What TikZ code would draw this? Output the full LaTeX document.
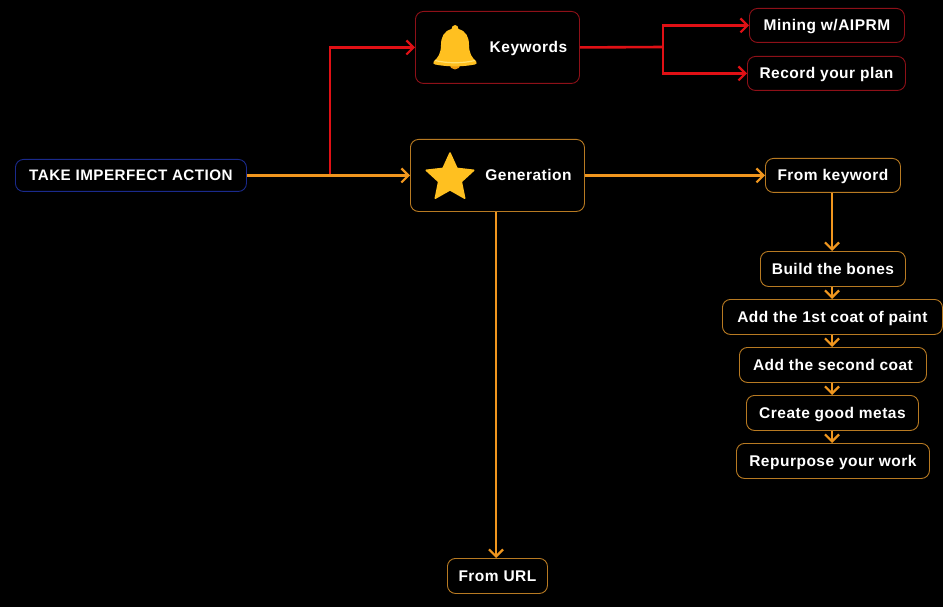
\documentclass[tikz,border=0pt]{standalone}
\usepackage{fontspec}
\setmainfont[LetterSpace=3.2]{Liberation Sans}
\usetikzlibrary{arrows.meta,shapes.geometric}
\definecolor{ored}{HTML}{E01015}
\definecolor{oorange}{HTML}{F0961E}
\definecolor{bred}{HTML}{8E1018}
\definecolor{borange}{HTML}{B87A22}
\definecolor{bblue}{HTML}{1A2A8C}
\definecolor{gold}{HTML}{FFC020}
\definecolor{goldlight}{HTML}{FFE070}
\definecolor{golddark}{HTML}{F09A10}
\tikzset{
  boxn/.style={draw=borange,line width=0.9pt,rounded corners=8pt,inner sep=0pt,text=white,text height=11pt,text depth=0pt,font=\fontsize{15.5}{18}\selectfont\bfseries},
  redn/.style={boxn,draw=bred},
  lab/.style={text=white,inner sep=0pt,text height=11pt,text depth=0pt,font=\fontsize{15.5}{18}\selectfont\bfseries},
  link/.style={line width=2.6pt,-{Straight Barb[length=7pt,width=14pt,line width=2.2pt]}},
  plain/.style={line width=2.6pt},
}
\newcommand{\bx}[6]{\node[#1,minimum width=#4pt,minimum height=#5pt,anchor=north west] (#2) at (#3) {#6};}
\begin{document}
\begin{tikzpicture}[x=1pt,y=-1pt]
\useasboundingbox[fill=black] (0,0) rectangle (943,607);
\coordinate (branchA) at (330,175);
\coordinate (branchB) at (663,47);
\bx{boxn,draw=bblue,font=\fontsize{15.2}{18}\selectfont\bfseries}{root}{15,159}{231}{32}{TAKE IMPERFECT ACTION}
\bx{redn}{kw}{415,11}{164}{72}{}
\bx{boxn}{gen}{410,139}{174}{72}{}
\bx{redn}{mining}{749,8}{155}{34}{Mining w/AIPRM}
\bx{redn}{record}{747,56}{158}{34}{Record your plan}
\bx{boxn}{fromkw}{765,158}{135}{34}{From keyword}
\bx{boxn}{bones}{760,251}{145}{35}{Build the bones}
\bx{boxn}{first}{722,299}{220}{35}{Add the 1st coat of paint}
\bx{boxn}{second}{739,347}{187}{35}{Add the second coat}
\bx{boxn}{metas}{746,395}{172}{35}{Create good metas}
\bx{boxn}{repurpose}{736,443}{193}{35}{Repurpose your work}
\bx{boxn}{url}{447,558}{100}{35}{From URL}
\node[lab] (kwlabel) at (528.5,47) {Keywords};
\node[lab] (genlabel) at (528.5,175) {Generation};
% connectors
\draw[link,ored] (branchA) |- (kw.west);
\draw[link,oorange] (root.east) -- (gen.west);
\draw[plain,ored] (kw.east) -- (branchB);
\draw[link,ored] (branchB) |- (mining.west);
\draw[link,ored] (branchB) |- (record.west);
\draw[link,oorange] (gen.east) -- (fromkw.west);
\draw[link,oorange] (fromkw.south -| 832,0) -- (bones.north -| 832,0);
\draw[link,oorange] (bones.south -| 832,0) -- (first.north -| 832,0);
\draw[link,oorange] (first.south -| 832,0) -- (second.north -| 832,0);
\draw[link,oorange] (second.south -| 832,0) -- (metas.north -| 832,0);
\draw[link,oorange] (metas.south -| 832,0) -- (repurpose.north -| 832,0);
\draw[link,oorange] (gen.south -| 496,0) -- (url.north -| 496,0);
% star
\node[star,star points=5,star point ratio=2.1,fill=gold,draw=gold,line join=round,line width=1.5pt,minimum size=50pt,inner sep=0pt] (staricon) at (450,178) {};
% bell
\fill[golddark] (460.5,64) arc[start angle=0,end angle=180,radius=5.5] -- cycle;
\fill[gold] (455,25) .. controls (452.5,25) and (452,27) .. (451.5,29)
  .. controls (444,31) and (441,37) .. (441,45)
  .. controls (441,53) and (438,58) .. (434,61)
  .. controls (433,63) and (433,64) .. (435,64.5)
  .. controls (448,67) and (462,67) .. (475,64.5)
  .. controls (477,64) and (477,63) .. (476,61)
  .. controls (472,58) and (469,53) .. (469,45)
  .. controls (469,37) and (466,31) .. (458.5,29)
  .. controls (458,27) and (457.5,25) .. (455,25) -- cycle;
\draw[line width=1.2pt,goldlight] (435,60.5) .. controls (448,63.5) and (462,63.5) .. (475,60.5);
\end{tikzpicture}
\end{document}
